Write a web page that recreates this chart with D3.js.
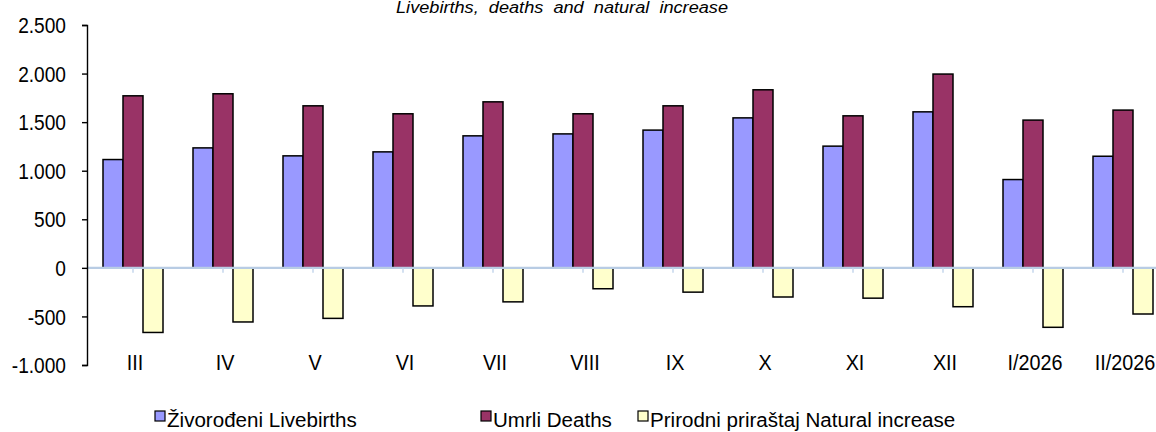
<!DOCTYPE html>
<html><head><meta charset="utf-8">
<script src="https://cdn.jsdelivr.net/npm/d3@7"></script>
<style>
html,body{margin:0;padding:0;background:#fff;}
svg{display:block;}
text{font-family:"Liberation Sans",Arial,sans-serif;fill:#000;}
</style></head>
<body>
<svg id="chart" width="1156" height="432"></svg>
<script>
const categories = ["III","IV","V","VI","VII","VIII","IX","X","XI","XII","I/2026","II/2026"];
const livebirths = [1115,1235,1153,1194,1359,1379,1418,1544,1253,1606,909,1149];
const deaths     = [1771,1792,1668,1586,1709,1586,1668,1833,1565,1995,1521,1624];
const natural    = [-665,-557,-520,-392,-350,-215,-250,-300,-312,-400,-612,-475];
const seriesNames = ["Živorođeni Livebirths","Umrli Deaths","Prirodni priraštaj Natural increase"];
const yTicks = [-1000,-500,0,500,1000,1500,2000,2500];
const yTickLabels = ["-1.000","-500","0","500","1.000","1.500","2.000","2.500"];
const title = "Livebirths,  deaths  and  natural  increase";

const colors = ["#9999ff","#993366","#ffffcc"];
const series = [livebirths, deaths, natural];
const svg = d3.select("#chart");
const sx = 0.85;

const x = d3.scaleBand().domain(categories).range([88, 88 + 90*categories.length]).paddingInner(0).paddingOuter(0);
const xs = d3.scaleBand().domain([0,1,2]).range([15, 75]);
const y = d3.scaleLinear().domain([-1000, 2500]).range([365, 25]);

// title
svg.append("text").attr("x", 562).attr("y", 13)
  .attr("text-anchor","middle").attr("font-size", 16).attr("font-style","italic")
  .attr("textLength", 332).attr("lengthAdjust","spacingAndGlyphs")
  .attr("xml:space","preserve").style("white-space","pre")
  .text(title);

// bars
const groups = svg.append("g").selectAll("g").data(categories).join("g")
  .attr("transform", d => `translate(${x(d)},0)`);
series.forEach((vals, si) => {
  groups.append("rect")
    .attr("x", xs(si))
    .attr("width", xs.bandwidth())
    .attr("y", (d,i) => y(Math.max(0, vals[i])))
    .attr("height", (d,i) => Math.abs(y(vals[i]) - y(0)))
    .attr("fill", colors[si])
    .attr("stroke", "#000").attr("stroke-width", 1.5);
});

// zero line + small category ticks
const xEnd = 1156;
svg.append("line").attr("x1", 87).attr("x2", xEnd).attr("y1", y(0)).attr("y2", y(0))
  .attr("stroke", "#b8cce4").attr("stroke-width", 2.4);
svg.append("g").selectAll("line").data(categories).join("line")
  .attr("x1", d => x(d) + x.bandwidth()/2).attr("x2", d => x(d) + x.bandwidth()/2)
  .attr("y1", y(0)).attr("y2", y(0) + 5)
  .attr("stroke", "#c5d6ec").attr("stroke-width", 1.5);

// y axis
const yAxis = d3.axisLeft(y).tickValues(yTicks).tickSize(5).tickFormat((d,i) => yTickLabels[i]);
const ya = svg.append("g").attr("transform", "translate(87,0)").call(yAxis);
ya.select(".domain").attr("stroke","#000").attr("stroke-width",1.4);
ya.selectAll(".tick line").attr("stroke","#000").attr("stroke-width",1.4);
ya.selectAll(".tick text").remove();
svg.append("g").selectAll("g").data(yTicks).join("g")
  .attr("transform", d => `translate(66,${y(d)}) scale(${sx},1)`)
  .append("text").attr("text-anchor","end").attr("dy","0.36em").attr("font-size", 22.5)
  .text((d,i) => yTickLabels[i]);

// category labels
svg.append("g").selectAll("g").data(categories).join("g")
  .attr("transform", d => `translate(${x(d) + x.bandwidth()/2 + 2},370) scale(0.88,1)`)
  .append("text").attr("text-anchor","middle").attr("font-size", 22.5).text(d => d);

// legend
const legendX = [155, 481, 638];
const lg = svg.append("g").selectAll("g").data(seriesNames).join("g")
  .attr("transform", (d,i) => `translate(${legendX[i]},0)`);
lg.append("rect").attr("x",0).attr("y",411).attr("width",10).attr("height",10)
  .attr("fill",(d,i)=>colors[i]).attr("stroke","#000").attr("stroke-width",1.2);
lg.append("g").attr("transform", `translate(12,427) scale(0.98,1)`)
  .append("text").attr("font-size", 21).text(d => d);
</script>
</body></html>
